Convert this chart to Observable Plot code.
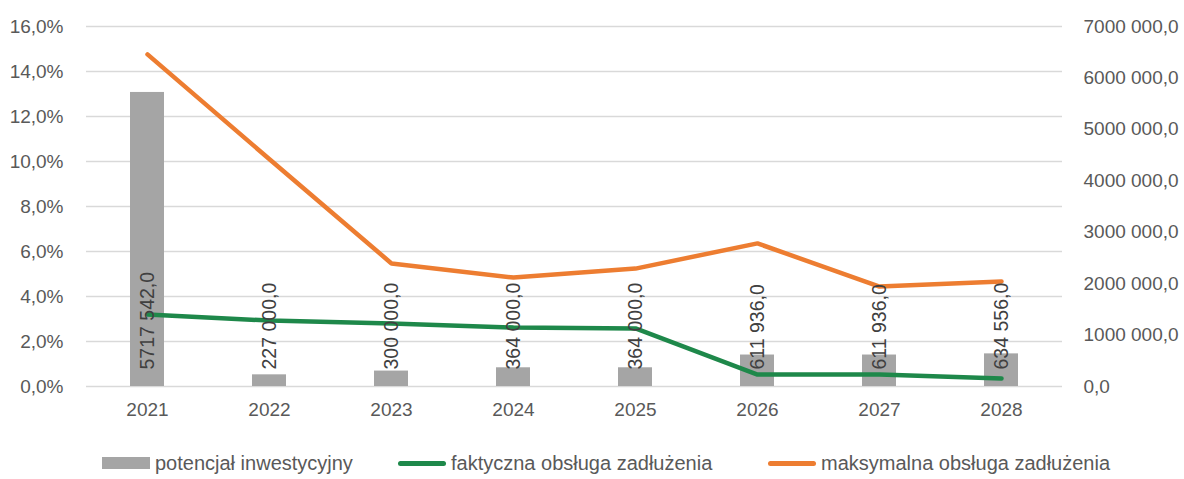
<!DOCTYPE html>
<html><head><meta charset="utf-8">
<script src="https://cdn.jsdelivr.net/npm/d3@7"></script>
<script src="https://cdn.jsdelivr.net/npm/@observablehq/plot@0.6"></script>
<style>
body{margin:0;background:#fff;font-family:"Liberation Sans",Arial,sans-serif;}
#legend{position:relative;height:39px;font-size:20px;color:#595959;}
.item{position:absolute;top:0;height:46px;display:flex;align-items:center;white-space:nowrap;}
.sw{width:48px;margin-right:5px;}
</style></head><body>
<div id="chart"></div>
<div id="legend"></div>
<script>
const years = ["2021","2022","2023","2024","2025","2026","2027","2028"];
const potencjal = [5717542,227000,300000,364000,364000,611936,611936,634556];
const faktyczna = [3.20,2.93,2.80,2.62,2.58,0.53,0.53,0.36];
const maksymalna = [14.76,10.10,5.47,4.84,5.24,6.36,4.44,4.67];
const leftTicks = [0,2,4,6,8,10,12,14,16];
const rightTicks = [0,1000000,2000000,3000000,4000000,5000000,6000000,7000000];
const leftMax = 16, rightMax = 7000000;
const seriesNames = ["potencjał inwestycyjny","faktyczna obsługa zadłużenia","maksymalna obsługa zadłużenia"];
const colors = {bar:"#a5a5a5", green:"#1e884a", orange:"#ed7d31"};

const toLeft = v => v / rightMax * leftMax;
const fmtPct = d => d.toFixed(1).replace(".", ",") + "%";
const fmtNum = v => {
  const s = String(Math.round(v));
  const i = s.length > 3 ? s.slice(0, -3) + " " + s.slice(-3) : s;
  return i + ",0";
};

const data = years.map((y, i) => ({year: y, pot: potencjal[i], fak: faktyczna[i], mak: maksymalna[i]}));

const chart = Plot.plot({
  width: 1184, height: 440,
  marginLeft: 86, marginRight: 122, marginTop: 26, marginBottom: 54,
  style: {fontFamily: '"Liberation Sans", Arial, sans-serif', fontSize: "19px", color: "#595959", background: "#fff"},
  x: {domain: years, paddingInner: 0.72, paddingOuter: 0.36, label: null},
  y: {domain: [0, leftMax], label: null},
  marks: [
    Plot.gridY(leftTicks, {stroke: "#d9d9d9", strokeOpacity: 1, strokeWidth: 1.5}),
    Plot.barY(data, {x: "year", y: d => toLeft(d.pot), fill: colors.bar}),
    Plot.line(data, {x: "year", y: "fak", stroke: colors.green, strokeWidth: 4.5, strokeLinecap: "round", strokeLinejoin: "round"}),
    Plot.line(data, {x: "year", y: "mak", stroke: colors.orange, strokeWidth: 4.5, strokeLinecap: "round", strokeLinejoin: "round"}),
    Plot.text(data, {x: "year", y: 0, dy: -17, text: d => fmtNum(d.pot), rotate: -90, textAnchor: "start", fill: "#404040", fontSize: 19.5}),
    Plot.axisY(leftTicks, {anchor: "left", tickSize: 0, tickPadding: 23, tickFormat: fmtPct, label: null}),
    Plot.axisY(rightTicks.map(toLeft), {anchor: "right", tickSize: 0, tickPadding: 21, tickFormat: d => fmtNum(d / leftMax * rightMax), label: null}),
    Plot.axisX({tickSize: 0, tickPadding: 16, label: null})
  ]
});
document.getElementById("chart").appendChild(chart);

const legend = document.getElementById("legend");
const items = [
  {name: seriesNames[0], left: 102, sw: `<div class="sw" style="height:12px;background:${colors.bar}"></div>`},
  {name: seriesNames[1], left: 398, sw: `<div class="sw" style="height:5px;border-radius:3px;background:${colors.green}"></div>`},
  {name: seriesNames[2], left: 768, sw: `<div class="sw" style="height:5px;border-radius:3px;background:${colors.orange}"></div>`}
];
for (const it of items) {
  const d = document.createElement("div");
  d.className = "item";
  d.style.left = it.left + "px";
  d.innerHTML = it.sw + `<span>${it.name}</span>`;
  legend.appendChild(d);
}
</script>
</body></html>
